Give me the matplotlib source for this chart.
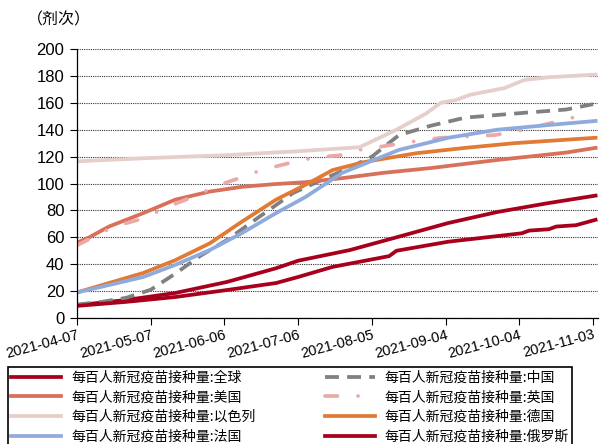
import matplotlib
matplotlib.use("Agg")
import matplotlib.pyplot as plt
import matplotlib.dates as mdates
import numpy as np

plt.rcParams['font.family'] = ['Liberation Sans', 'Noto Sans CJK SC', 'DejaVu Sans']

# ---------- data (days after 2021-04-07, doses per hundred) ----------
start = np.datetime64('2021-04-07')

global_days = [0, 20, 40, 61, 81, 90, 111, 131, 151, 171, 192, 211]
global_vals = [9.5, 13.4, 18.6, 26.8, 37, 42.6, 50.5, 60.5, 70.6, 78.8, 85.5, 91]

china_days = [0, 10, 20, 30, 40, 50, 61, 74, 88, 100, 110, 120, 131, 144, 158, 178, 199, 210]
china_vals = [10, 12, 15, 21, 33, 46, 58, 75, 93, 103, 111, 120, 136, 143, 149, 152, 155, 159]

us_days = [0, 5, 13, 27, 40, 54, 67, 80, 93, 108, 125, 144, 171, 199, 211]
us_vals = [56, 60, 68, 78, 88, 94, 97.5, 99.5, 101, 104, 108, 111.5, 117.5, 123, 126.5]

uk_days = [0, 15, 27, 36, 47, 58, 66, 75, 86, 93, 95, 107, 115, 138, 148, 170, 182, 195, 204]
uk_vals = [54, 68, 74, 82, 90, 99, 104, 110, 115, 117.5, 119, 121, 125, 131.5, 134, 136, 140, 146, 150]

israel_days = [0, 30, 60, 90, 115, 130, 142, 148, 154, 160, 174, 182, 192, 211]
israel_vals = [116.5, 119, 121, 124, 127, 140, 152, 160, 162, 166, 171, 177, 179, 181]

germany_days = [0, 13, 27, 40, 54, 67, 81, 94, 104, 117, 138, 158, 178, 211]
germany_vals = [19, 26, 33.5, 43, 55.5, 71.5, 88, 100, 110, 116, 122.5, 126.5, 130, 134]

france_days = [0, 13, 27, 40, 54, 67, 81, 93, 108, 131, 151, 171, 192, 211]
france_vals = [19, 24.5, 30.5, 39.5, 50.5, 63, 78, 90, 108, 125, 134, 140, 143.5, 146.5]

russia_days = [0, 20, 40, 61, 81, 90, 104, 127, 130, 151, 181, 184, 192, 195, 203, 211]
russia_vals = [9, 12, 15.6, 20.8, 26, 30.5, 38, 46, 50, 56.7, 63, 65, 66, 68, 69, 73]

tick_days = [0, 30, 60, 90, 120, 150, 180, 210]


def to_dates(days):
    return start + np.array(days).astype('timedelta64[D]')


# ---------- plot ----------
fig = plt.figure(figsize=(6.14, 4.44), dpi=100)
ax = fig.add_axes([0.1254, 0.2838, 0.8486, 0.6058])

lw = 2.7
h_global, = ax.plot(to_dates(global_days), global_vals, color='#A8001C', lw=lw,
                    label='每百人新冠疫苗接种量:全球')
h_china, = ax.plot(to_dates(china_days), china_vals, color='#808080', lw=lw,
                   linestyle=(0, (3.7, 2.2)), label='每百人新冠疫苗接种量:中国')
h_us, = ax.plot(to_dates(us_days), us_vals, color='#D9705A', lw=lw,
                label='每百人新冠疫苗接种量:美国')
h_uk, = ax.plot(to_dates(uk_days), uk_vals, color='#EBAAAA', lw=lw,
                linestyle=(0, (3.3, 5.5, 0.01, 5.5)), dash_capstyle='round',
                label='每百人新冠疫苗接种量:英国')
h_isr, = ax.plot(to_dates(israel_days), israel_vals, color='#E6CECA', lw=lw,
                 label='每百人新冠疫苗接种量:以色列')
h_ger, = ax.plot(to_dates(germany_days), germany_vals, color='#E07A35', lw=lw,
                 label='每百人新冠疫苗接种量:德国')
h_fra, = ax.plot(to_dates(france_days), france_vals, color='#8FAADC', lw=lw,
                 label='每百人新冠疫苗接种量:法国')
h_rus, = ax.plot(to_dates(russia_days), russia_vals, color='#A8001C', lw=lw,
                 label='每百人新冠疫苗接种量:俄罗斯')

# axes formatting
ax.set_xlim(to_dates([0])[0], to_dates([212])[0])
ax.set_ylim(0, 200)
ax.set_yticks(range(0, 201, 20))
ax.set_xticks(to_dates(tick_days))
ax.xaxis.set_major_formatter(mdates.DateFormatter('%Y-%m-%d'))
ax.tick_params(axis='y', labelsize=12, length=5, width=0.8, direction='out', pad=4)
ax.tick_params(axis='x', labelsize=10.5, length=5, width=0.8, direction='out', pad=2)
for lab in ax.get_xticklabels():
    lab.set_rotation(15)
    lab.set_ha('right')
    lab.set_rotation_mode('anchor')

ax.grid(axis='y', color='#333333', linestyle=(0, (1, 1)), lw=0.8)
ax.set_axisbelow(True)
for s in ['top', 'right']:
    ax.spines[s].set_visible(False)
for s in ['left', 'bottom']:
    ax.spines[s].set_linewidth(0.9)
    ax.spines[s].set_color('black')

fig.text(59 / 614, 1 - 20 / 444, '（剂次）', ha='center', va='center', fontsize=11.5,
         family=['Noto Sans CJK SC', 'DejaVu Sans'])

handles = [h_global, h_us, h_isr, h_fra, h_china, h_uk, h_ger, h_rus]
leg = fig.legend(handles=handles, loc='upper left', bbox_to_anchor=(8 / 614, 1 - 367 / 444),
                 bbox_transform=fig.transFigure, ncol=2, frameon=True, fancybox=False,
                 edgecolor='black', framealpha=1, borderaxespad=0, borderpad=0.25,
                 handlelength=3.6, handletextpad=0.7, columnspacing=5.0, labelspacing=0.42,
                 prop={'family': ['Noto Sans CJK SC', 'DejaVu Sans'], 'size': 10})
leg.get_frame().set_linewidth(1.2)

fig.savefig('out.png', dpi=100)
